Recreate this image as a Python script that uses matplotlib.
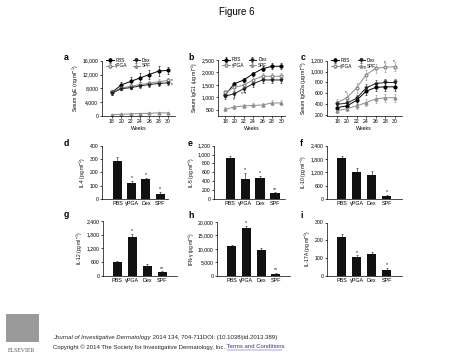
import matplotlib
matplotlib.use("Agg")
import matplotlib.pyplot as plt
from matplotlib.ticker import FuncFormatter
from matplotlib.patches import Rectangle

plt.rcParams['font.family'] = ['Liberation Sans', 'DejaVu Sans']
plt.rcParams['mathtext.default'] = 'regular'

W, H = 474, 355
fig = plt.figure(figsize=(W / 100, H / 100), dpi=100)
fig.patch.set_facecolor('white')

weeks = [18, 20, 22, 24, 26, 28, 30]
series_names = ['PBS', 'γPGA', 'Dex', 'SPF']

# Panel a: IgE
ige = {
    'PBS':  [6800, 9000, 10000, 11000, 12000, 13000, 13200],
    'Dex':  [6600, 7900, 8200, 8700, 9100, 9400, 9600],
    'γPGA': [6900, 8100, 8600, 9100, 9500, 9900, 10300],
    'SPF':  [400, 500, 600, 700, 800, 900, 900],
}
ige_err = {
    'PBS':  [600, 900, 1200, 1300, 1400, 1400, 1000],
    'Dex':  [500, 500, 500, 600, 600, 700, 700],
    'γPGA': [600, 600, 700, 700, 700, 800, 800],
    'SPF':  [150, 150, 200, 200, 200, 250, 250],
}
# Panel b: IgG1
igg1 = {
    'PBS':  [1100, 1550, 1700, 1950, 2150, 2250, 2250],
    'Dex':  [1050, 1150, 1350, 1550, 1700, 1700, 1700],
    'γPGA': [1200, 1400, 1500, 1700, 1850, 1850, 1850],
    'SPF':  [520, 620, 660, 680, 700, 780, 780],
}
igg1_err = {
    'PBS':  [100, 80, 80, 80, 100, 120, 120],
    'Dex':  [100, 120, 120, 120, 130, 130, 130],
    'γPGA': [100, 120, 120, 120, 120, 120, 120],
    'SPF':  [80, 80, 80, 80, 80, 100, 100],
}
# Panel c: IgG2a
igg2a = {
    'PBS':  [340, 370, 470, 640, 710, 720, 720],
    'Dex':  [400, 420, 510, 700, 780, 800, 800],
    'γPGA': [430, 520, 700, 940, 1060, 1080, 1090],
    'SPF':  [280, 320, 370, 430, 500, 520, 520],
}
igg2a_err = {
    'PBS':  [50, 50, 60, 70, 70, 70, 70],
    'Dex':  [60, 60, 60, 70, 70, 70, 70],
    'γPGA': [60, 80, 90, 90, 80, 80, 80],
    'SPF':  [40, 50, 50, 60, 70, 70, 70],
}

groups = ['PBS', 'γPGA', 'Dex', 'SPF']
il4 = [285, 118, 148, 40];        il4_err = [30, 18, 12, 15];     il4_sig = ['', '*', '*', '*']
il5 = [920, 460, 480, 130];       il5_err = [50, 130, 40, 20];    il5_sig = ['', '*', '*', '**']
il10 = [1830, 1230, 1100, 150];   il10_err = [120, 150, 180, 50]; il10_sig = ['', '', '', '*']
il12 = [620, 1700, 430, 170];     il12_err = [30, 150, 90, 30];   il12_sig = ['', '*', '', '**']
ifng = [11200, 17800, 9700, 700]; ifng_err = [400, 700, 700, 300]; ifng_sig = ['', '*', '', '**']
il17 = [220, 105, 123, 32];       il17_err = [15, 10, 8, 12];     il17_sig = ['', '*', '', '*']

styles = {
    'PBS':  dict(color='black', marker='o', mfc='black'),
    'Dex':  dict(color='#222222', marker='v', mfc='#222222'),
    'γPGA': dict(color='#8c8c8c', marker='o', mfc='white'),
    'SPF':  dict(color='#8c8c8c', marker='^', mfc='white'),
}

FS = 3.7
comma = FuncFormatter(lambda v, p: f"{int(v):,}")


def ax_px(l, t, r, b):
    return fig.add_axes([l / W, 1 - b / H, (r - l) / W, (b - t) / H])


def style_ax(ax):
    for s in ['top', 'right']:
        ax.spines[s].set_visible(False)
    for s in ['left', 'bottom']:
        ax.spines[s].set_linewidth(0.5)
    ax.tick_params(labelsize=FS, width=0.5, length=1.5, pad=1)
    ax.yaxis.set_major_formatter(comma)
    ax.set_facecolor('white')


def line_panel(box, data, err, ylim, yticks, ylabel, xlim, stars):
    ax = ax_px(*box)
    style_ax(ax)
    for name in series_names:
        st = styles[name]
        ax.errorbar(weeks, data[name], yerr=err[name], color=st['color'], marker=st['marker'],
                    mfc=st['mfc'], mec=st['color'], ms=2.0, lw=0.7, elinewidth=0.4,
                    capsize=1, capthick=0.4, label=name)
    ax.set_xlim(*xlim)
    ax.set_ylim(*ylim)
    ax.set_xticks(weeks)
    ax.set_yticks(yticks)
    ax.set_xlabel('Weeks', fontsize=FS, labelpad=1)
    ax.set_ylabel(ylabel, fontsize=FS, labelpad=1)
    ax.legend(ncol=2, fontsize=3.4, frameon=False, loc='upper left',
              bbox_to_anchor=(0.02, 1.1), handlelength=1.6, columnspacing=1.0,
              handletextpad=0.4, borderpad=0.1, labelspacing=0.1)
    for (x, y, s) in stars:
        ax.text(x, y, s, fontsize=3.4, ha='left', va='center')
    return ax


def bar_panel(box, vals, errs, sig, ylim, yticks, ylabel, xlim):
    ax = ax_px(*box)
    style_ax(ax)
    x = list(range(len(groups)))
    ax.bar(x, vals, width=0.62, color='#111111', yerr=errs,
           error_kw=dict(elinewidth=0.4, capsize=0.8, capthick=0.4, ecolor='#111111'))
    ax.set_xlim(*xlim)
    ax.set_ylim(*ylim)
    ax.set_yticks(yticks)
    ax.set_xticks(x)
    ax.set_xticklabels(groups, fontsize=3.9)
    ax.tick_params(axis='x', length=0, pad=1.5)
    ax.set_ylabel(ylabel, fontsize=3.5, labelpad=1)
    for xi, v, e, s in zip(x, vals, errs, sig):
        if s:
            ax.text(xi, v + e + ylim[1] * 0.01, s, fontsize=3.8, ha='center', va='bottom')
    return ax


unit_ng = ' (ng ml$^{-1}$)'
unit_ug = ' (μg ml$^{-1}$)'
unit_pg = ' (pg ml$^{-1}$)'

line_panel((101.7, 60.7, 175, 116), ige, ige_err, (0, 16000), [0, 4000, 8000, 12000, 16000],
           'Serum IgE' + unit_ng, (15.8, 31.5),
           [(30.6, 10300, '*'), (30.6, 9100, '*')])
line_panel((218, 60, 285, 115.7), igg1, igg1_err, (270, 2500), [500, 1000, 1500, 2000, 2500],
           'Serum IgG1' + unit_ug, (16.5, 30.8),
           [(19.6, 900, '*'), (21.4, 1120, '* *')])
line_panel((326.7, 60.7, 401.7, 115.7), igg2a, igg2a_err, (190, 1200), [200, 400, 600, 800, 1000, 1200],
           'Serum IgG2a' + unit_ug, (15.8, 31.4),
           [(19.6, 610, '*'), (23.6, 1050, '*'), (27.6, 1175, '*'), (29.6, 1185, '*')])

bar_panel((101.7, 145.7, 168, 199), il4, il4_err, il4_sig, (0, 400), [0, 100, 200, 300, 400],
          'IL-4' + unit_pg, (-1.1, 3.55))
bar_panel((214.3, 145.7, 285, 199), il5, il5_err, il5_sig, (0, 1200), [0, 200, 400, 600, 800, 1000, 1200],
          'IL-5' + unit_pg, (-1.07, 3.67))
bar_panel((326.7, 145.7, 401.7, 199), il10, il10_err, il10_sig, (0, 2400), [0, 600, 1200, 1800, 2400],
          'IL-10' + unit_pg, (-1.0, 4.0))
bar_panel((102.7, 221, 177, 275.7), il12, il12_err, il12_sig, (0, 2400), [0, 600, 1200, 1800, 2400],
          'IL-12' + unit_pg, (-0.97, 3.98))
bar_panel((217.3, 222, 290, 275.7), ifng, ifng_err, ifng_sig, (0, 20000), [0, 5000, 10000, 15000, 20000],
          'IFN-γ' + unit_pg, (-0.98, 3.97))
bar_panel((326.7, 222.5, 401.7, 275.7), il17, il17_err, il17_sig, (0, 300), [0, 100, 200, 300],
          'IL-17A' + unit_pg, (-1.0, 4.0))

# panel letters
letters = [('a', 64, 53), ('b', 188, 53), ('c', 301, 53),
           ('d', 64, 139), ('e', 188, 139), ('f', 300, 139),
           ('g', 64, 210), ('h', 188, 211), ('i', 300, 211)]
for L, x, y in letters:
    fig.text(x / W, 1 - y / H, L, fontsize=6.3, fontweight='bold', ha='left', va='top')

# title
fig.text(0.5, 1 - 12 / H, 'Figure 6', fontsize=7, ha='center', va='center')

# footer
fig.text(53 / W, 1 - 337 / H, 'Journal of Investigative Dermatology', fontsize=4.3,
         style='italic', ha='left', va='center', color='#222222')
fig.text(151 / W, 1 - 337 / H, ' 2014 134, 704-711DOI: (10.1038/jid.2013.389)', fontsize=4.3,
         ha='left', va='center', color='#222222')
fig.text(53 / W, 1 - 347 / H, 'Copyright © 2014 The Society for Investigative Dermatology, Inc.', fontsize=4.3,
         ha='left', va='center', color='#222222')
fig.text(225 / W, 1 - 347 / H, ' Terms and Conditions', fontsize=4.3, ha='left', va='center',
         color='#333399')
fig.add_artist(plt.Line2D([227 / W, 282 / W], [1 - 350 / H, 1 - 350 / H], lw=0.3, color='#333399'))

# Elsevier logo approximation
fig.patches.append(Rectangle((6 / W, 1 - 342 / H), 33 / W, 28 / H, transform=fig.transFigure,
                             facecolor='#9a9a9a', edgecolor='none', figure=fig))
fig.text(22 / W, 1 - 350 / H, 'ELSEVIER', fontsize=4.2, family='Liberation Serif',
         ha='center', va='center', color='#555555')

fig.savefig('out.png', dpi=100, facecolor='white')
